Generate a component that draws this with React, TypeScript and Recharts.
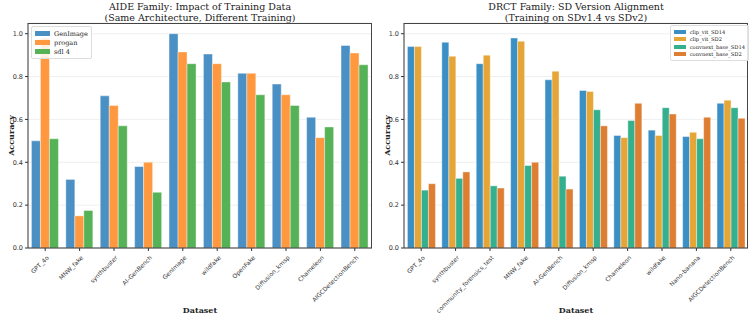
import React from "react";
import { BarChart, Bar, XAxis, YAxis, CartesianGrid } from "recharts";

// AIDE panel
const aideDatasets = [
  "GPT_4o", "MNW_fake", "synthbuster", "AI-GenBench", "GenImage",
  "wildfake", "OpenFake", "Diffusion_kmsp", "Chameleon", "AIGCDetectionBench",
];
const aideGenimage = [0.50, 0.32, 0.71, 0.38, 1.0, 0.905, 0.815, 0.765, 0.61, 0.945];
const aideProgan = [0.98, 0.15, 0.665, 0.40, 0.915, 0.86, 0.815, 0.715, 0.515, 0.91];
const aideSdv14 = [0.51, 0.175, 0.57, 0.26, 0.86, 0.775, 0.715, 0.665, 0.565, 0.855];

// DRCT panel
const drctDatasets = [
  "GPT_4o", "synthbuster", "community_forensics_test", "MNW_fake", "AI-GenBench",
  "Diffusion_kmsp", "Chameleon", "wildfake", "Nano-banana", "AIGCDetectionBench",
];
const clipSD14 = [0.94, 0.96, 0.86, 0.98, 0.785, 0.735, 0.525, 0.55, 0.52, 0.675];
const clipSD2 = [0.94, 0.895, 0.90, 0.965, 0.825, 0.73, 0.515, 0.525, 0.54, 0.69];
const convSD14 = [0.27, 0.325, 0.29, 0.385, 0.335, 0.645, 0.595, 0.655, 0.51, 0.655];
const convSD2 = [0.30, 0.355, 0.28, 0.40, 0.275, 0.57, 0.675, 0.625, 0.61, 0.605];

const yTicks = [0, 0.2, 0.4, 0.6, 0.8, 1.0];

const serif = "'DejaVu Serif', serif";
const sans = "'DejaVu Sans', sans-serif";

const aideSeries = [
  { key: "genimage", name: "GenImage", color: "#4a90c4" },
  { key: "progan", name: "progan", color: "#ff983e" },
  { key: "sdv14", name: "sdl 4", color: "#56b256" },
];
const drctSeries = [
  { key: "clip14", name: "clip_vit_SD14", color: "#3a8fc5" },
  { key: "clip2", name: "clip_vit_SD2", color: "#e6a537" },
  { key: "conv14", name: "convnext_base_SD14", color: "#35b08e" },
  { key: "conv2", name: "convnext_base_SD2", color: "#dd7e33" },
];

const aideData = aideDatasets.map((d, i) => ({
  name: d,
  genimage: aideGenimage[i],
  progan: aideProgan[i],
  sdv14: aideSdv14[i],
}));
const drctData = drctDatasets.map((d, i) => ({
  name: d,
  clip14: clipSD14[i],
  clip2: clipSD2[i],
  conv14: convSD14[i],
  conv2: convSD2[i],
}));

const W = 376;
const H = 327;
const TOP = 23;
const XH = 79; // x axis band height
const YW = 24;
const ML = 4;
const MR = 4;

const AngledTick = (props: any) => {
  const { x, y, payload } = props;
  return (
    <g transform={`translate(${x + 2},${y + 3})`}>
      <text
        transform="rotate(-45)"
        textAnchor="end"
        fontSize={6}
        fontFamily={sans}
        style={{ fill: "#333" }}
        dy={3}
      >
        {payload.value}
      </text>
    </g>
  );
};

function Panel({ data, series, title, legendStyle, left }: any) {
  const plotW = W - ML - MR - YW;
  return (
    <div style={{ position: "absolute", left, top: 0, width: W, height: H }}>
      <div
        style={{
          position: "absolute",
          left: ML + YW,
          width: plotW,
          top: 2,
          textAlign: "center",
          fontFamily: serif,
          fontSize: 9.5,
          lineHeight: "10.5px",
          color: "#222",
        }}
      >
        {title.map((t: string) => (
          <div key={t}>{t}</div>
        ))}
      </div>
      <BarChart
        width={W}
        height={H}
        data={data}
        margin={{ top: TOP, right: MR, bottom: 0, left: ML }}
        barCategoryGap="10%"
        barGap={0}
      >
        <CartesianGrid vertical={false} stroke="#ebebeb" strokeWidth={0.8} />
        <XAxis
          dataKey="name"
          interval={0}
          tick={<AngledTick />}
          tickLine={{ stroke: "#333" }}
          tickSize={3}
          axisLine={{ stroke: "#333" }}
          height={XH}
          label={{
            value: "Dataset",
            position: "insideBottom",
            offset: 14,
            style: { fontFamily: serif, fontWeight: "bold", fontSize: 8, fill: "#222" },
          }}
        />
        <YAxis
          width={YW}
          domain={[0, 1.05]}
          ticks={yTicks}
          tickFormatter={(v: number) => v.toFixed(1)}
          tick={{ fontSize: 6.5, fontFamily: sans, fill: "#333" }}
          tickLine={{ stroke: "#333" }}
          tickSize={3}
          axisLine={{ stroke: "#333" }}
          label={{
            value: "Accuracy",
            angle: -90,
            position: "insideLeft",
            offset: 7,
            style: { fontFamily: serif, fontWeight: "bold", fontSize: 8, fill: "#222", textAnchor: "middle" },
          }}
        />
        {series.map((s: any) => (
          <Bar
            key={s.key}
            dataKey={s.key}
            name={s.name}
            fill={s.color}
            stroke="#ffffff"
            strokeWidth={0.4}
            isAnimationActive={false}
          />
        ))}
      </BarChart>
      <div
        style={{
          position: "absolute",
          left: ML + YW,
          top: TOP,
          width: plotW,
          height: H - TOP - XH,
          border: "1px solid #444",
          borderLeft: "none",
          borderBottom: "none",
          boxSizing: "border-box",
          pointerEvents: "none",
        }}
      />
      <div
        style={{
          position: "absolute",
          background: "rgba(255,255,255,0.85)",
          border: "1px solid #ddd",
          borderRadius: 2,
          padding: "2px 3px",
          ...legendStyle.box,
        }}
      >
        {series.map((s: any) => (
          <div
            key={s.key}
            style={{ display: "flex", alignItems: "center", height: legendStyle.row }}
          >
            <span
              style={{
                display: "inline-block",
                width: legendStyle.sw,
                height: legendStyle.sh,
                background: s.color,
                marginRight: 4,
              }}
            />
            <span style={{ fontFamily: serif, fontSize: legendStyle.fs, color: "#222" }}>
              {s.name}
            </span>
          </div>
        ))}
      </div>
    </div>
  );
}

export default function App() {
  return (
    <div
      style={{
        position: "absolute",
        left: 0,
        top: 0,
        width: 753,
        height: 327,
        background: "#fff",
      }}
    >
      <Panel
        left={0}
        data={aideData}
        series={aideSeries}
        title={["AIDE Family: Impact of Training Data", "(Same Architecture, Different Training)"]}
        legendStyle={{ box: { left: 31, top: 26 }, row: 9, sw: 15, sh: 5, fs: 6.5 }}
      />
      <Panel
        left={376}
        data={drctData}
        series={drctSeries}
        title={["DRCT Family: SD Version Alignment", "(Training on SDv1.4 vs SDv2)"]}
        legendStyle={{ box: { right: 3, top: 25 }, row: 7.5, sw: 12, sh: 4, fs: 5.2 }}
      />
    </div>
  );
}
